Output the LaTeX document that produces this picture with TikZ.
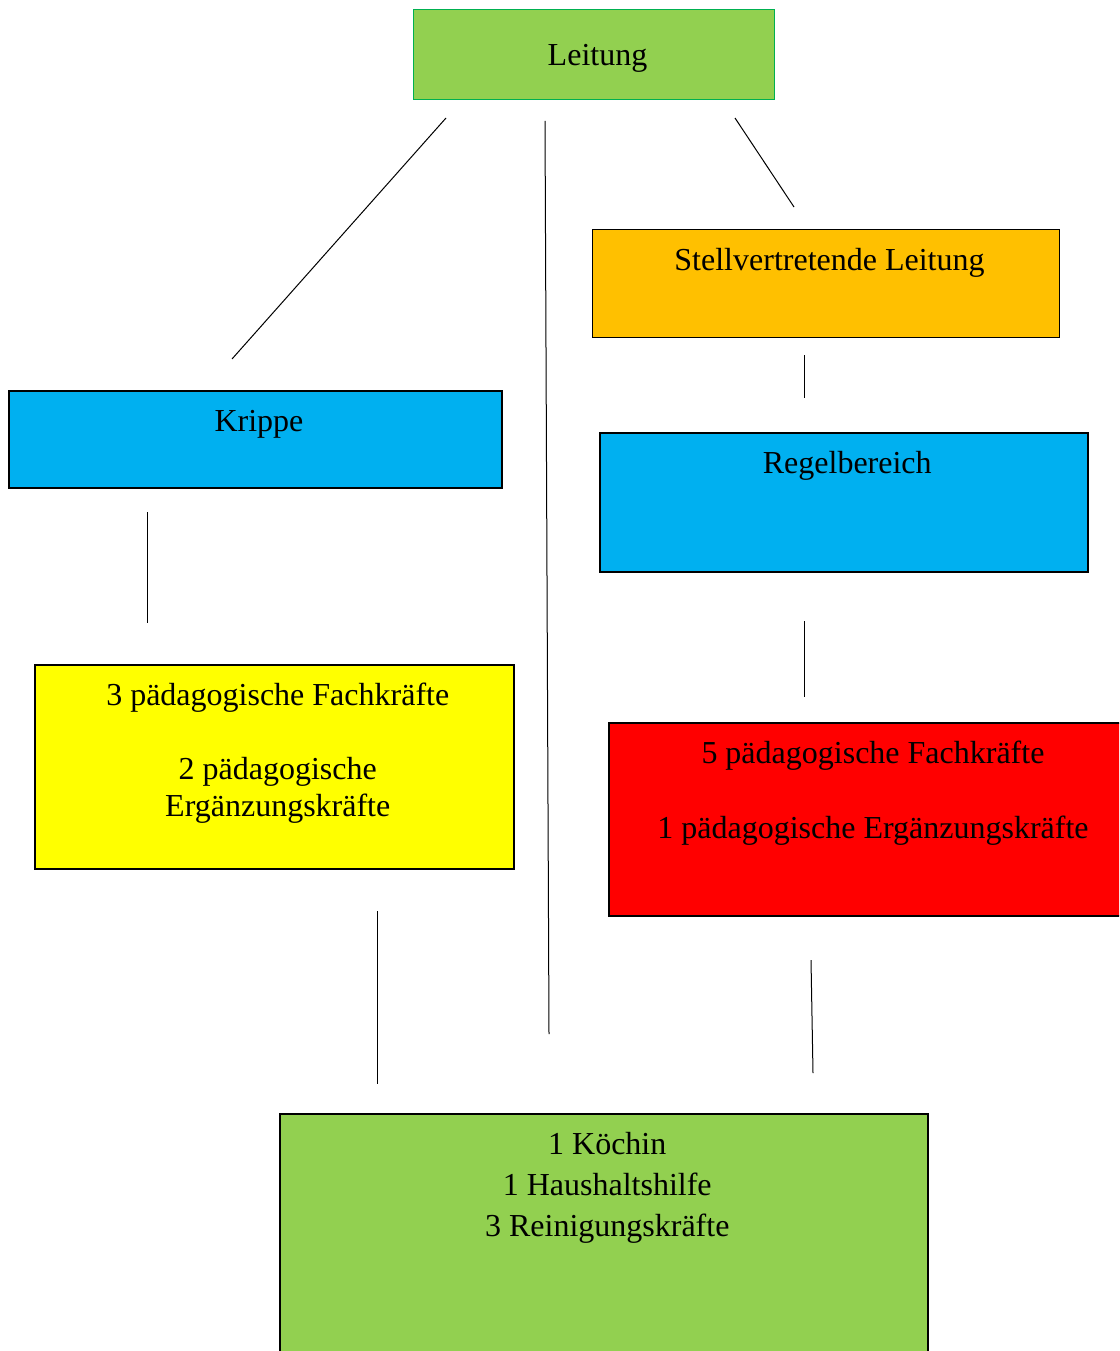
\documentclass[tikz,border=0pt]{standalone}
\usepackage{fontspec}
\setmainfont{Liberation Serif}
\usepackage{tikz}
\usepackage{xcolor}

\definecolor{leitgruen}{RGB}{146,208,80}
\definecolor{rahmengruen}{RGB}{0,176,80}
\definecolor{orangegelb}{RGB}{255,192,0}
\definecolor{hellblau}{RGB}{0,176,240}
\definecolor{gelb}{RGB}{255,255,0}
\definecolor{rot}{RGB}{255,0,0}

\tikzset{
	kasten/.style={draw=black, line width=1.5pt, inner sep=0pt, anchor=north west},
	titel/.style={anchor=base, yshift=-41pt, xshift=3.5pt, inner sep=0pt, align=center, font=\fontsize{32}{37}\selectfont},
	titelmehr/.style={titel, anchor=north, yshift=22pt},
	linie/.style={line width=1pt}
}

\begin{document}
\begin{tikzpicture}[x=1pt, y=-1pt]
		\useasboundingbox (0, 0) rectangle (1119, 1351);
		\clip (0, 0) rectangle (1119, 1351);
		
		\node [kasten, draw=rahmengruen, line width=1pt, fill=leitgruen, minimum width=361pt, minimum height=90pt, label={[titel, yshift=-16pt]north:Leitung}] (leitung) at (413, 9) {};
		\node [kasten, line width=1pt, fill=orangegelb, minimum width=467pt, minimum height=108pt, label={[titel]north:Stellvertretende Leitung}] (stellv) at (592, 229) {};
		\node [kasten, line width=2pt, fill=hellblau, minimum width=493pt, minimum height=97pt, label={[titel]north:Krippe}] (krippe) at (8, 390) {};
		\node [kasten, fill=hellblau, minimum width=488pt, minimum height=139pt, label={[titel]north:Regelbereich}] (regel) at (599, 432) {};
		\node [kasten, fill=gelb, minimum width=479pt, minimum height=204pt, label={[titelmehr]north:{3 pädagogische Fachkräfte\\[37pt]2 pädagogische\\Ergänzungskräfte}}] (krippeteam) at (34, 664) {};
		\node [kasten, line width=2pt, fill=rot, minimum width=521pt, minimum height=193pt, label={[titelmehr]north:{5 pädagogische Fachkräfte\\[38pt]1 pädagogische Ergänzungskräfte}}] (regelteam) at (608, 722) {};
		\node [kasten, fill=leitgruen, minimum width=648pt, minimum height=260pt, label={[titelmehr, font=\fontsize{32}{41}\selectfont]north:{1 Köchin\\1 Haushaltshilfe\\3 Reinigungskräfte}}] (kueche) at (279, 1113) {};
		
		% Linien
		\coordinate (a1) at (446, 118);
		\coordinate (a2) at (232, 359);
		\coordinate (b1) at (545, 121);
		\coordinate (b2) at (549, 1034);
		\coordinate (c1) at (735, 118);
		\coordinate (c2) at (794, 207);
		\coordinate (d1) at (804, 355);
		\coordinate (d2) at (804, 398);
		\coordinate (e1) at (147, 512);
		\coordinate (e2) at (147, 623);
		\coordinate (f1) at (804, 621);
		\coordinate (f2) at (804, 697);
		\coordinate (g1) at (377, 911);
		\coordinate (g2) at (377, 1084);
		\coordinate (h1) at (811, 960);
		\coordinate (h2) at (813, 1073);
		
		\draw [linie] (a1) -- (a2);
		\draw [linie] (b1) -- (b2);
		\draw [linie] (c1) -- (c2);
		\draw [linie] (d1) -- (d2);
		\draw [linie] (e1) -- (e2);
		\draw [linie] (f1) -- (f2);
		\draw [linie] (g1) -- (g2);
		\draw [linie] (h1) -- (h2);
\end{tikzpicture}
\end{document}
